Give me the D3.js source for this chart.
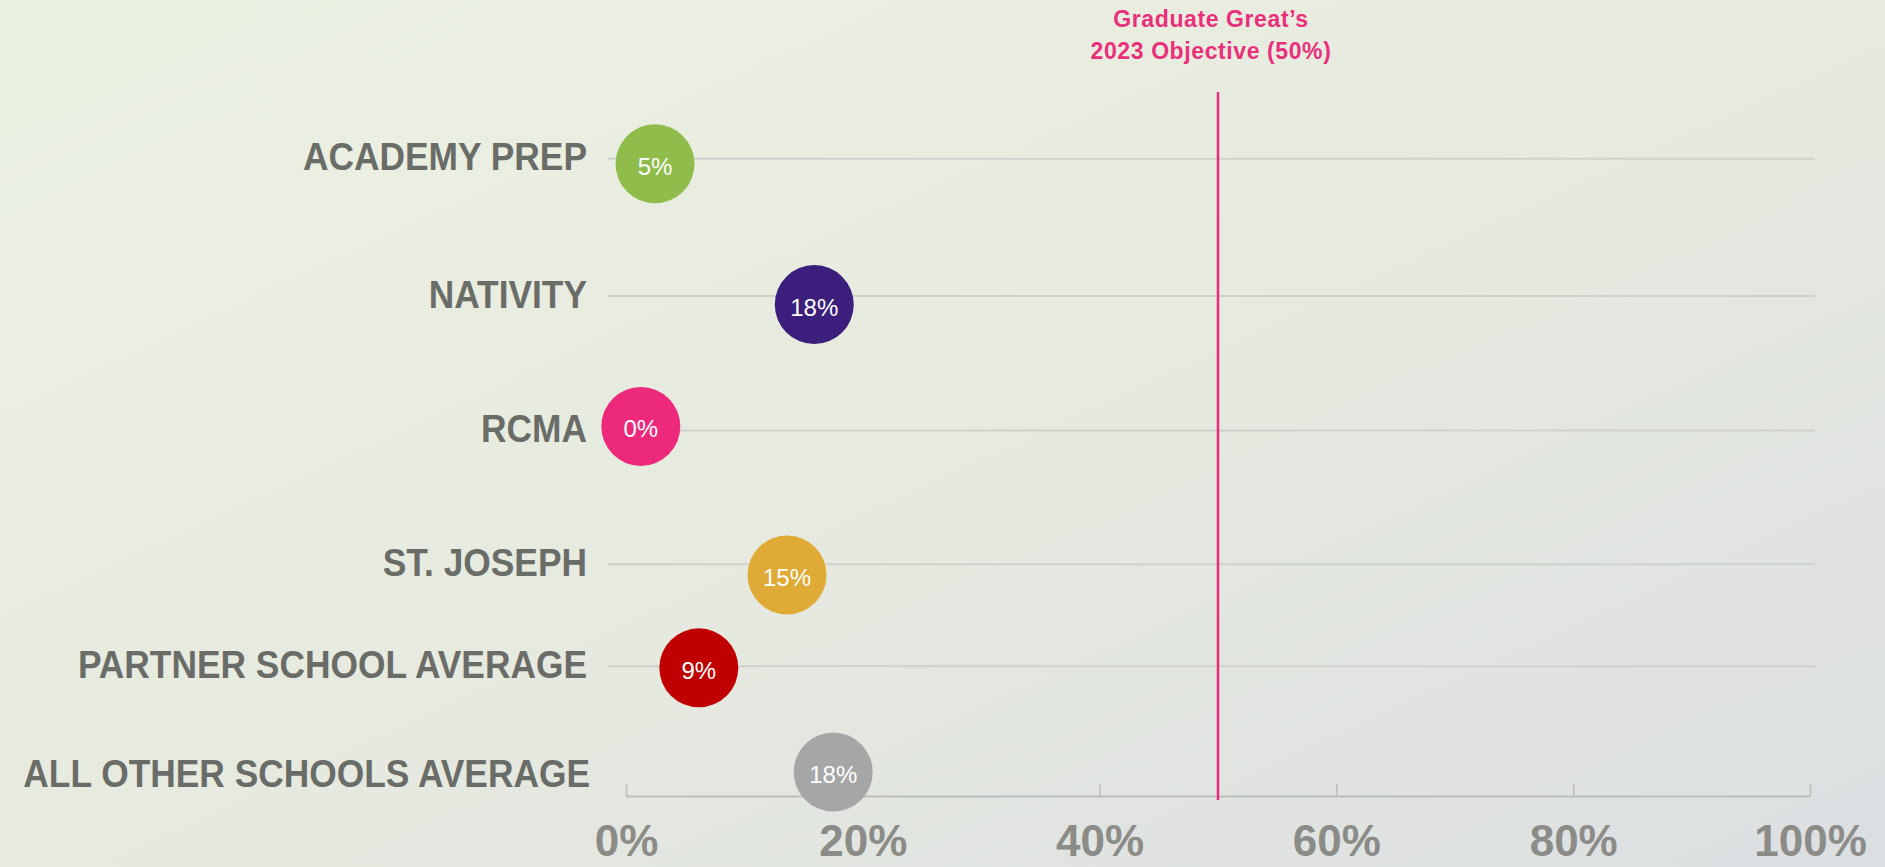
<!DOCTYPE html>
<html>
<head>
<meta charset="utf-8">
<script src="https://cdn.jsdelivr.net/npm/d3@7"></script>
<style>
  html, body { margin: 0; padding: 0; overflow: hidden; }
  svg { display: block; }
</style>
</head>
<body>
<svg id="chart" width="1885" height="867"></svg>
<script>
// ---------------- DATA ----------------
const categories = ["ACADEMY PREP", "NATIVITY", "RCMA", "ST. JOSEPH", "PARTNER SCHOOL AVERAGE", "ALL OTHER SCHOOLS AVERAGE"];
const values = [5, 18, 0, 15, 9, 18];                         // printed value in each bubble (%)
const markerX = [2.45, 15.9, 1.25, 13.6, 6.15, 17.5];          // where each bubble sits on the % axis
const markerY = [89.8, 69.8, 52.5, 31.4, 18.2, 3.4];           // bubble vertical position (row units, 0 = axis)
const rowY = [90.6, 71.1, 52.0, 33.0, 18.5, 3.05];             // label / gridline row positions (row units)
const colors = ["#8fbc4a", "#3c1f7d", "#ec297b", "#dfaa35", "#c00000", "#a6a6a6"];
const xTicks = [0, 20, 40, 60, 80, 100];
const targetValue = 50;
const targetTitle = ["Graduate Great\u2019s", "2023 Objective (50%)"];

// ---------------- LAYOUT ----------------
const W = 1885, H = 867;
const svg = d3.select("#chart");

const x = d3.scaleLinear().domain([0, 100]).range([626, 1810]);
const y = d3.scaleLinear().domain([0, 100]).range([796, 92]);

// background gradient
const defs = svg.append("defs");
const grad = defs.append("linearGradient").attr("id", "bg")
  .attr("x1", 0).attr("y1", 0).attr("x2", 1).attr("y2", 1);
grad.append("stop").attr("offset", 0).attr("stop-color", "#ecf2e2");
grad.append("stop").attr("offset", 0.5).attr("stop-color", "#e6eadf");
grad.append("stop").attr("offset", 1).attr("stop-color", "#dcdfe2");
svg.append("rect").attr("width", W).attr("height", H).attr("fill", "url(#bg)");

// gridlines (every row except the last, which sits on the axis)
svg.append("g").selectAll("line")
  .data(rowY.slice(0, rowY.length - 1))
  .join("line")
  .attr("x1", x(0) - 18).attr("x2", x(100) + 5)
  .attr("y1", d => y(d) + 0.5).attr("y2", d => y(d) + 0.5)
  .attr("stroke", "#d0d1cc").attr("stroke-width", 2);

// x axis
const axis = d3.axisBottom(x)
  .tickValues(xTicks)
  .tickFormat(d => d + "%")
  .tickSizeInner(-12)
  .tickSizeOuter(0)
  .tickPadding(29);
const gAxis = svg.append("g").attr("transform", `translate(0,${y(0)})`).call(axis);
gAxis.select(".domain").attr("stroke", "#bdbebb").attr("stroke-width", 2);
gAxis.selectAll(".tick line").attr("stroke", "#bdbebb").attr("stroke-width", 1.5);
gAxis.selectAll(".tick text")
  .attr("fill", "#8b8c88")
  .style("font-family", "'Liberation Sans', Arial, sans-serif")
  .style("font-weight", "700")
  .style("font-size", "44px");

// target line
svg.append("line")
  .attr("x1", x(targetValue)).attr("x2", x(targetValue))
  .attr("y1", y(100)).attr("y2", y(0) + 4)
  .attr("stroke", "#ec2a7a").attr("stroke-width", 2.5);

// target title
svg.append("g").selectAll("text")
  .data(targetTitle)
  .join("text")
  .attr("x", x(targetValue) - 7)
  .attr("y", (d, i) => 26.5 + i * 32)
  .attr("text-anchor", "middle")
  .attr("fill", "#ea2f7b")
  .style("font-family", "'Liberation Sans', Arial, sans-serif")
  .style("font-weight", "700")
  .style("font-size", "23px")
  .style("letter-spacing", "0.6px")
  .text(d => d);

// category labels
svg.append("g").selectAll("g")
  .data(categories)
  .join("g")
  .attr("transform", (d, i) => `translate(${i === categories.length - 1 ? 590 : 587},${y(rowY[i]) + 12.3}) scale(0.93,1)`)
  .append("text")
  .attr("text-anchor", "end")
  .attr("fill", "#6a6c68")
  .style("font-family", "'Liberation Sans', Arial, sans-serif")
  .style("font-weight", "700")
  .style("font-size", "38px")
  .text(d => d);

// bubbles
const bubbles = svg.append("g").selectAll("g")
  .data(categories.map((c, i) => ({ c, v: values[i], mx: markerX[i], my: markerY[i], col: colors[i] })))
  .join("g")
  .attr("transform", d => `translate(${x(d.mx)},${y(d.my)})`);
bubbles.append("circle")
  .attr("r", 39.5)
  .attr("fill", d => d.col);
bubbles.append("text")
  .attr("text-anchor", "middle")
  .attr("y", 11)
  .attr("fill", "#ffffff")
  .style("font-family", "'Liberation Sans', Arial, sans-serif")
  .style("font-size", "24px")
  .text(d => d.v + "%");
</script>
</body>
</html>
